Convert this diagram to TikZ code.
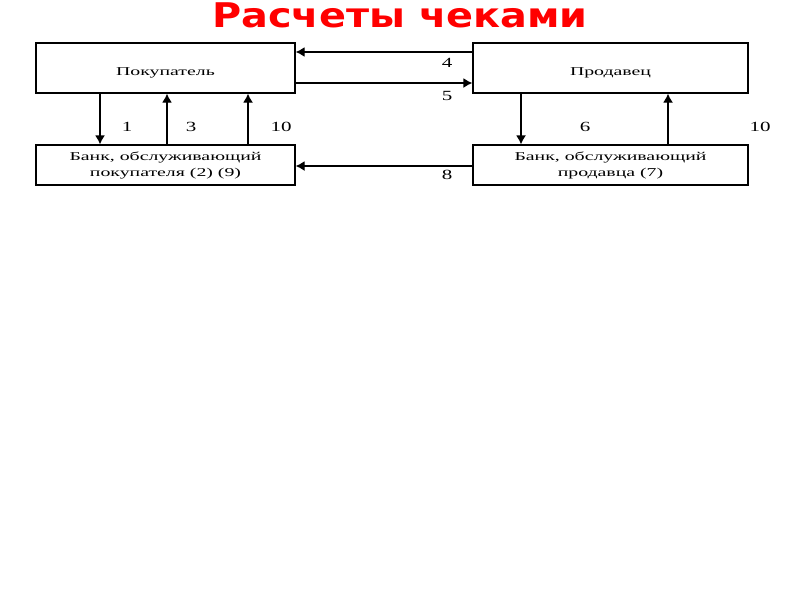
\documentclass[tikz,border=0pt]{standalone}
\usepackage{fontspec}
\setmainfont{Liberation Serif}
\newfontfamily\titlefont{DejaVu Sans}
\usetikzlibrary{arrows.meta}
\newcommand{\sx}[1]{\scalebox{1.65}[1]{#1}}
\newcommand{\sxn}[1]{\scalebox{1.5}[1]{#1}}
\begin{document}
\begin{tikzpicture}[x=1pt,y=-1pt,
  box/.style={draw, line width=1.3pt, inner sep=0pt},
  txt/.style={font=\fontsize{12}{16}\selectfont, align=center, inner sep=0pt},
  conn/.style={line width=1.3pt, -{Latex[length=9pt,width=10pt]}},
  lbl/.style={font=\fontsize{14}{16}\selectfont}]
\useasboundingbox (0,0) rectangle (800,600);
\node[font=\titlefont\bfseries\fontsize{34}{38}\selectfont, text=red, anchor=base] (title) at (400,27) {\scalebox{1.17}[1]{Расчеты чеками}};
\node[box, minimum width=259pt, minimum height=50pt] (buyer) at (165.5,68) {};
\node[box, minimum width=275pt, minimum height=50pt] (seller) at (610.5,68) {};
\node[box, minimum width=259pt, minimum height=40pt] (bbank) at (165.5,165) {};
\node[box, minimum width=275pt, minimum height=40pt] (sbank) at (610.5,165) {};
\node[txt] (buyertxt) at ([yshift=-5pt]buyer.center) {\sx{Покупатель}};
\node[txt] (sellertxt) at ([yshift=-5pt]seller.center) {\sx{Продавец}};
\node[txt] (bbanktxt) at (bbank.center) {\sx{Банк, обслуживающий}\\\sx{покупателя (2) (9)}};
\node[txt] (sbanktxt) at (sbank.center) {\sx{Банк, обслуживающий}\\\sx{продавца (7)}};
% horizontal
\draw[conn] (seller.west |- 0,52) -- (buyer.east |- 0,52);
\draw[conn] (buyer.east |- 0,83) -- (seller.west |- 0,83);
\draw[conn] (sbank.west |- 0,166) -- (bbank.east |- 0,166);
% vertical
\draw[conn] (buyer.south -| 100,0) -- (bbank.north -| 100,0);
\draw[conn] (bbank.north -| 167,0) -- (buyer.south -| 167,0);
\draw[conn] (bbank.north -| 248,0) -- (buyer.south -| 248,0);
\draw[conn] (seller.south -| 521,0) -- (sbank.north -| 521,0);
\draw[conn] (sbank.north -| 668,0) -- (seller.south -| 668,0);
% labels
\node[lbl] (l4) at (447,63) {\sxn{4}};
\node[lbl] (l5) at (447,96) {\sxn{5}};
\node[lbl] (l8) at (447,175) {\sxn{8}};
\node[lbl] (l1) at (127,127) {\sxn{1}};
\node[lbl] (l3) at (191,127) {\sxn{3}};
\node[lbl] (l10a) at (281,127) {\sxn{10}};
\node[lbl] (l6) at (585,127) {\sxn{6}};
\node[lbl] (l10b) at (760,127) {\sxn{10}};
\end{tikzpicture}
\end{document}
